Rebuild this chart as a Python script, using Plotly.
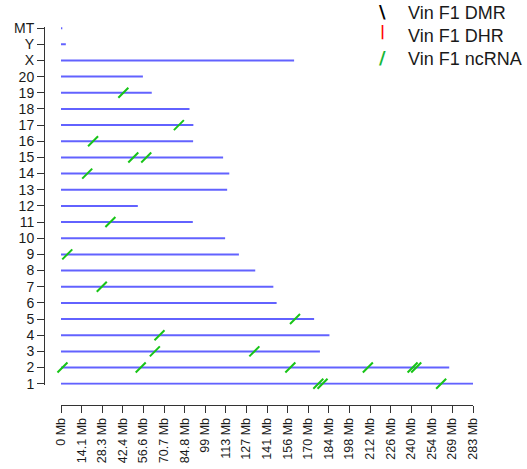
import plotly.graph_objects as go

# ---- data ----
chrom_names = ["1", "2", "3", "4", "5", "6", "7", "8", "9", "10", "11", "12", "13",
               "14", "15", "16", "17", "18", "19", "20", "X", "Y", "MT"]
chrom_lengths_mb = [282.76, 266.44, 177.70, 184.23, 173.71, 147.99, 145.73, 133.31,
                    122.10, 112.63, 90.46, 52.72, 114.03, 115.49, 111.25, 90.67,
                    90.84, 88.20, 62.28, 56.21, 159.97, 3.31, 0.9]

xtick_labels = ["0 Mb", "14.1 Mb", "28.3 Mb", "42.4 Mb", "56.6 Mb", "70.7 Mb", "84.8 Mb",
                "99 Mb", "113 Mb", "127 Mb", "141 Mb", "156 Mb", "170 Mb", "184 Mb",
                "198 Mb", "212 Mb", "226 Mb", "240 Mb", "254 Mb", "269 Mb", "283 Mb"]

ncrna_chrom = ["1", "1", "1", "2", "2", "2", "2", "2", "2", "3", "3", "4", "5", "7",
               "9", "11", "14", "15", "15", "16", "17", "19"]
ncrna_pos_mb = [176.6, 179.5, 260.9, 1.0, 54.7, 157.4, 210.6, 241.3, 243.8, 64.4,
                132.7, 67.6, 160.6, 28.0, 4.3, 33.9, 18.0, 49.6, 58.5, 22.0, 80.9, 42.8]

dmr_chrom, dmr_pos_mb = [], []
dhr_chrom, dhr_pos_mb = [], []

legend_labels = ["Vin F1 DMR", "Vin F1 DHR", "Vin F1 ncRNA"]
legend_glyphs = ["\\", "|", "/"]
legend_colors = ["black", "red", "#17b83a"]

# ---- build ----
row_of = {c: i + 1 for i, c in enumerate(chrom_names)}
max_len = chrom_lengths_mb[0]
n_ticks = len(xtick_labels)
tick_vals = [max_len * i / (n_ticks - 1) for i in range(n_ticks)]

bar_x, bar_y = [], []
for c, L in zip(chrom_names, chrom_lengths_mb):
    bar_x += [0, L, None]
    bar_y += [row_of[c], row_of[c], None]

font_family = "Liberation Sans, Arial, Helvetica, sans-serif"
fig = go.Figure()
fig.add_trace(go.Scatter(x=bar_x, y=bar_y, mode="lines",
                         line=dict(color="rgba(70,70,255,0.85)", width=2),
                         showlegend=False, hoverinfo="skip", cliponaxis=False))

green = "#17c417"
fig.add_trace(go.Scatter(x=ncrna_pos_mb, y=[row_of[c] for c in ncrna_chrom], mode="markers",
                         marker=dict(symbol="line-ne", size=10, color=green,
                                     line=dict(color=green, width=2)),
                         showlegend=False, cliponaxis=False, name="Vin F1 ncRNA"))
fig.add_trace(go.Scatter(x=dmr_pos_mb, y=[row_of[c] for c in dmr_chrom], mode="markers",
                         marker=dict(symbol="line-nw", size=10, color="black",
                                     line=dict(color="black", width=2)),
                         showlegend=False, cliponaxis=False, name="Vin F1 DMR"))
fig.add_trace(go.Scatter(x=dhr_pos_mb, y=[row_of[c] for c in dhr_chrom], mode="markers",
                         marker=dict(symbol="line-ns", size=10, color="red",
                                     line=dict(color="red", width=2)),
                         showlegend=False, cliponaxis=False, name="Vin F1 DHR"))

# manual legend (paper coordinates)
T, B, L_M, R_M = 27, 64, 44, 54
PW, PH = 527 - L_M - R_M, 469 - T - B
def px(xp):
    return (xp - L_M) / PW
def py(yp):
    return (469 - B - yp) / PH

text_y = [12.7, 36.0, 58.8]
glyph_sizes = [18, 14, 18]
glyph_y = [12.0, 31.0, 58.0]
for lab, g, col, ty, gs, gy in zip(legend_labels, legend_glyphs, legend_colors,
                                   text_y, glyph_sizes, glyph_y):
    fig.add_annotation(x=px(406), y=py(ty), xref="paper", yref="paper", text=lab,
                       showarrow=False, xanchor="left", yanchor="middle",
                       font=dict(size=18, color="#1a1a1a"))
    fig.add_annotation(x=px(382), y=py(gy), xref="paper", yref="paper",
                       text="<b>%s</b>" % g, showarrow=False, xanchor="center",
                       yanchor="middle", font=dict(size=gs, color=col,
                                                   family="DejaVu Sans, sans-serif"))

axis_col = "#333333"
y_lo, y_hi = 0.93, 23.07
row_px = (383.7 - 28.3) / 22
bottom_px = 383.7 + (1 - y_lo) * row_px
fig.update_layout(
    width=527, height=469,
    margin=dict(l=L_M, r=R_M, t=T, b=B, autoexpand=False),
    paper_bgcolor="white", plot_bgcolor="white",
    font=dict(family=font_family, color="#1a1a1a"),
    showlegend=False,
    xaxis=dict(range=[0, max_len], domain=[px(61), 1], anchor="free", position=0,
               showline=True, linecolor=axis_col, linewidth=1, ticks="outside",
               ticklen=7, tickcolor=axis_col, tickvals=tick_vals, ticktext=xtick_labels,
               tickangle=-90, tickfont=dict(size=12.5), showgrid=False, zeroline=False,
               automargin=False),
    yaxis=dict(range=[y_lo, y_hi], domain=[py(bottom_px), 1], anchor="free", position=0,
               showline=True, linecolor=axis_col, linewidth=1, ticks="outside",
               ticklen=7, tickcolor=axis_col, tickvals=list(range(1, 24)),
               ticktext=chrom_names, tickfont=dict(size=14), showgrid=False,
               zeroline=False, automargin=False),
)

fig.write_html("out.html")
